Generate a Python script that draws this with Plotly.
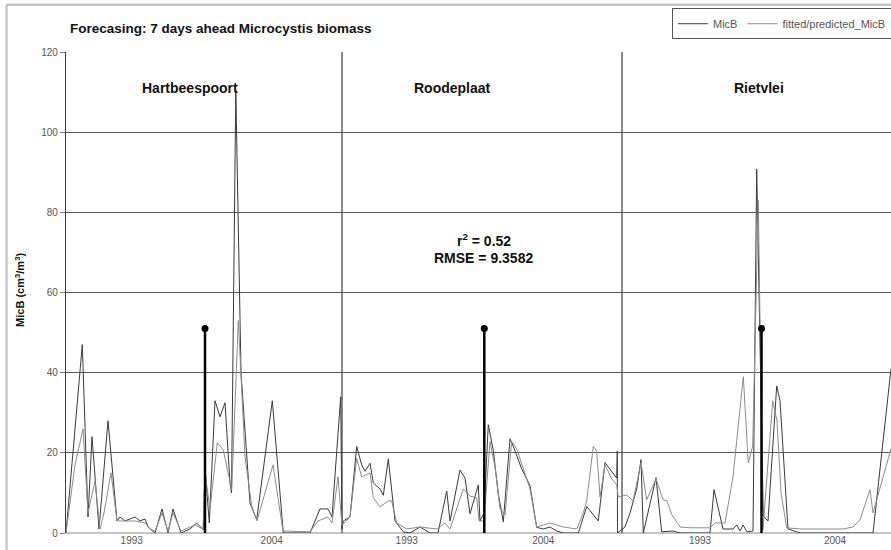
import plotly.graph_objects as go

# ---- data (x = sample index along the concatenated record of three reservoirs) ----
micb_x = [0, 16.3, 22, 26, 33, 42, 51, 54, 59, 64, 69, 74, 79, 82, 89, 96, 102, 107, 115, 124,
          130.7, 137.3, 139, 143.3, 149, 154, 159, 164, 165.5, 169.8, 175, 184, 190.7, 206.3, 217.3,
          244, 254, 262, 266, 274.7, 276,
          277.3, 284, 290.7, 295.7, 299, 304, 307.3, 314, 317.3, 322.3, 329, 337.3, 344, 354, 364,
          372, 380.7, 384, 394, 399, 404, 412.3, 414, 418, 422.3, 427.3, 432.3, 437.3, 444, 447.3,
          455.7, 464, 470.7, 477.3, 484, 490.7, 497.3, 512.3, 520.7, 532.3, 539, 545.7, 550.7, 551.3,
          551.5, 559, 564, 570.7, 575, 577.3, 590, 595.7, 607, 614, 644, 648, 657, 667, 670.7, 674,
          677, 681, 687, 690.7, 694.5, 697.3, 702, 710.7, 714, 722, 734, 807, 825]
micb_y = [0, 47, 4, 24, 1, 28, 3, 4, 3, 3.5, 4, 3, 3.5, 1.5, 0, 6, 0, 6, 0, 1,
          2.5, 0.8, 16.3, 2.5, 33, 29, 32.5, 12.5, 10, 110.5, 40, 7.5, 3.3, 33, 0,
          0, 6, 6, 4, 34, 1,
          3, 4, 21.6, 17, 15.4, 17.4, 12.5, 11, 9.4, 18.5, 3, 0.3, 0, 1.5, 0,
          0, 10.5, 3, 15.7, 13.7, 4.8, 12, 3, 5, 27, 20.6, 9.8, 2.8, 23.5, 21.6,
          16, 11.8, 1.4, 1, 1.5, 0.5, 0, 0, 6.6, 3, 17.6, 15.5, 13.7, 20.4,
          0, 1.5, 5, 11, 18.3, 0, 13.8, 0.3, 0.5, 0, 0, 10.8, 1, 1, 2, 0.5,
          2, 0.3, 0.5, 90.8, 40, 4.2, 3, 36.7, 33, 1, 0, 0, 41]

fit_x = [0, 4, 9, 17, 20, 22, 29, 34, 38, 45, 51, 59, 69, 79, 84, 89, 96, 102, 107, 115, 129,
         137, 139, 144, 151.3, 157.3, 165.7, 172.3, 179, 185.7, 191, 207, 217, 244, 252, 262, 266,
         272, 276,
         284, 290.7, 295.7, 304, 307.3, 314, 322.3, 325.7, 330.7, 340.7, 354, 370.7, 379, 384,
         397.3, 404, 410.7, 413, 418, 424, 429, 434, 439, 445.7, 450.7, 464, 470.7, 484, 497.3,
         510.7, 517.3, 520.7, 527.3, 530.7, 534, 539, 545.7, 550.7, 552.3, 560.7, 567, 575, 580.7,
         590, 597, 601, 605.7, 614, 624, 644, 649, 659, 667, 677.3, 682.3, 686.7, 692.3, 697,
         706.7, 711, 715, 720.7, 734, 777, 787, 794, 804, 807, 825]
fit_y = [0, 8, 17, 26, 12, 5, 13, 1, 5, 15, 3, 3, 3, 2.5, 1, 0.5, 5, 0.5, 5, 0.5, 2,
         1, 15, 6, 22.5, 20.7, 10.8, 53, 19, 6.7, 3, 17, 0.5, 0.3, 3, 4, 2.5,
         14, 2,
         4, 18.6, 14, 15, 8.8, 6.5, 8, 8, 2.5, 1, 1.5, 1, 2.5, 1,
         11, 9.2, 8.8, 3, 3, 22.8, 16.5, 6, 4.5, 22.8, 21, 11, 1.5, 2.5, 1.5,
         1, 5, 8, 21.6, 20.5, 9, 17, 13.5, 12, 9, 9.5, 8, 17.5, 8.3,
         13.5, 8.3, 8, 4.6, 1.5, 1.3, 1.3, 2.5, 2.5, 14, 39, 17.5, 21.7, 83, 0.8,
         33, 28, 10, 1.3, 1, 1, 1.5, 3.3, 10.8, 5, 21]

split_x = [139, 418.3, 695.5]          # start of the forecast period in each reservoir
split_y = [51, 51, 51]
panel_edges = [276, 556]
lakes = ["Hartbeespoort", "Roodeplaat", "Rietvlei"]
lake_x = [124, 386, 693]
tick_pos = [65.7, 205.7, 340.7, 477.3, 634, 769]
tick_text = ["1993", "2004", "1993", "2004", "1993", "2004"]
stats_text = ["r<sup>2</sup> = 0.52", "RMSE = 9.3582"]

FONT = "Arial, Liberation Sans, sans-serif"

fig = go.Figure()

# panel separators
sep_x, sep_y = [], []
for e in panel_edges:
    sep_x += [e, e, None]
    sep_y += [0, 120, None]
fig.add_trace(go.Scatter(x=sep_x, y=sep_y, mode="lines", line=dict(color="#3c3c3c", width=1.2),
                         showlegend=False, hoverinfo="skip"))

fig.add_trace(go.Scatter(x=micb_x, y=micb_y, mode="lines", name="MicB",
                         line=dict(color="#3a3a3a", width=1)))
fig.add_trace(go.Scatter(x=fit_x, y=fit_y, mode="lines", name="fitted/predicted_MicB",
                         line=dict(color="#8c8c8c", width=1)))

# forecast-start markers
mk_x, mk_y = [], []
for xv, yv in zip(split_x, split_y):
    mk_x += [xv, xv, None]
    mk_y += [0, yv, None]
fig.add_trace(go.Scatter(x=mk_x, y=mk_y, mode="lines", line=dict(color="#000000", width=2.5),
                         showlegend=False, hoverinfo="skip"))
fig.add_trace(go.Scatter(x=split_x, y=split_y, mode="markers",
                         marker=dict(color="#000000", size=7), showlegend=False, hoverinfo="skip"))

annots = []
for name, lx in zip(lakes, lake_x):
    annots.append(dict(x=lx, y=111, xref="x", yref="y", text=f"<b>{name}</b>", showarrow=False,
                       font=dict(family=FONT, size=14, color="#111")))
annots.append(dict(x=418, y=73, xref="x", yref="y", text=f"<b>{stats_text[0]}</b>", showarrow=False,
                   font=dict(family=FONT, size=14, color="#111")))
annots.append(dict(x=417, y=68.6, xref="x", yref="y", text=f"<b>{stats_text[1]}</b>", showarrow=False,
                   font=dict(family=FONT, size=14, color="#111")))
annots.append(dict(x=0.003, y=1.048, xref="paper", yref="paper", xanchor="left", yanchor="middle",
                   text="<b>Forecasing: 7 days ahead Microcystis biomass</b>", showarrow=False,
                   font=dict(family=FONT, size=13.5, color="#111")))
annots.append(dict(x=-0.056, y=0.505, xref="paper", yref="paper", xanchor="center", yanchor="middle",
                   textangle=-90, text="<b>MicB (cm<sup>3</sup>/m<sup>3</sup>)</b>", showarrow=False,
                   font=dict(family=FONT, size=11, color="#111")))

fig.update_layout(
    width=891, height=550,
    margin=dict(l=66, r=0, t=52, b=17, autoexpand=False),
    paper_bgcolor="white", plot_bgcolor="white",
    font=dict(family=FONT, size=10, color="#444"),
    annotations=annots,
    legend=dict(orientation="h", x=0.7345, y=1.091, xanchor="left", yanchor="top",
                bordercolor="#555", borderwidth=1, bgcolor="white",
                font=dict(family=FONT, size=11, color="#555"), tracegroupgap=0,
                itemwidth=30),
    shapes=[
        dict(type="line", xref="paper", yref="paper", x0=-0.072, x1=1.01, y0=1.098, y1=1.098,
             line=dict(color="#bdbdbd", width=2)),
        dict(type="line", xref="paper", yref="paper", x0=-0.072, x1=-0.072, y0=-0.04, y1=1.098,
             line=dict(color="#bdbdbd", width=2)),
    ],
)
fig.update_xaxes(range=[0, 825], tickvals=tick_pos, ticktext=tick_text, showgrid=False,
                 zeroline=False, showline=False, ticks="", automargin=False,
                 tickfont=dict(size=10, color="#555"))
fig.update_yaxes(range=[0, 120], tickvals=[0, 20, 40, 60, 80, 100, 120], showgrid=True,
                 gridcolor="#5a5a5a", gridwidth=1, zeroline=True, zerolinecolor="#c4c4c4",
                 zerolinewidth=2, showline=True, linecolor="#3c3c3c", linewidth=1.2,
                 ticks="outside", ticklen=5, tickcolor="#777", automargin=False,
                 tickfont=dict(size=10, color="#555"))

fig.write_html("out.html", config={"displayModeBar": False},
               post_script="document.body.style.margin='0';document.body.style.overflow='hidden';")
